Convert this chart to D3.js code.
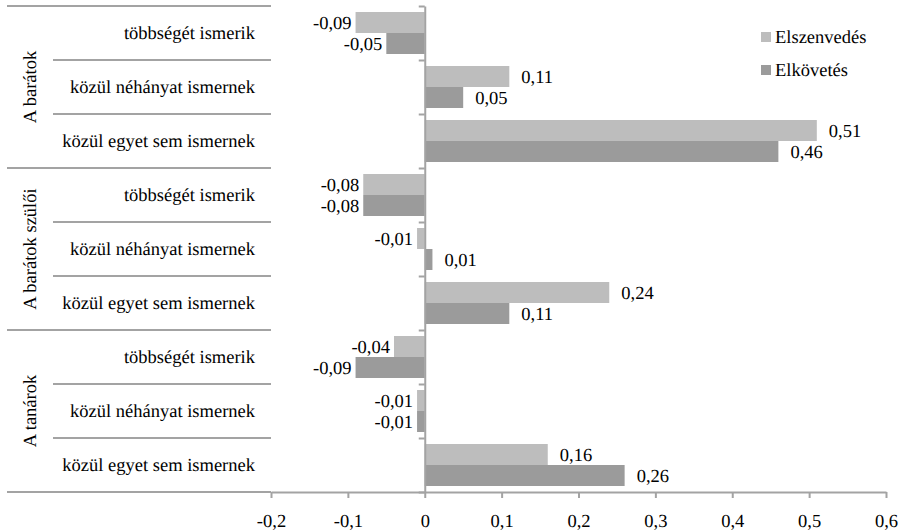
<!DOCTYPE html>
<html>
<head>
<meta charset="utf-8">
<script src="https://cdn.jsdelivr.net/npm/d3@7"></script>
</head>
<body style="margin:0; background:#fff">
<div id="chart"></div>
<script>

var groups = ["A barátok", "A barátok szülői", "A tanárok"];
var subcats = ["többségét ismerik", "közül néhányat ismernek", "közül egyet sem ismernek"];
var seriesNames = ["Elszenvedés", "Elkövetés"];
var seriesColors = ["#bdbdbd", "#9b9b9b"];

// one value per row, in top-to-bottom order (3 groups x 3 subcategories)
var elszenvedes = [-0.09, 0.11, 0.51, -0.08, -0.01, 0.24, -0.04, -0.01, 0.16];
var elkovetes = [-0.05, 0.05, 0.46, -0.08, 0.01, 0.11, -0.09, -0.01, 0.26];

var xTicks = [-0.2, -0.1, 0, 0.1, 0.2, 0.3, 0.4, 0.5, 0.6];

var width = 903, height = 532;
var lineColor = "#a3a3a3";
var fontFamily = "Liberation Serif";
var fontSize = "18.5px";

var locale = d3.formatLocale({decimal: ",", thousands: " ", grouping: [3], currency: ["", ""], minus: "-"});
var fmtVal = locale.format(".2f");
var fmtTick = function (d) { return d === 0 ? "0" : locale.format(".1f")(d); };

var rows = [];
groups.forEach(function (g, gi) {
    subcats.forEach(function (s, si) {
        var i = gi * subcats.length + si;
        rows.push({ id: i, group: g, sub: s, values: [elszenvedes[i], elkovetes[i]] });
    });
});

var svg = d3.select("#chart")
    .append("svg")
    .attr("width", width)
    .attr("height", height);

// every text gets the same font settings
function styleText(sel) {
    sel.attr("font-family", fontFamily)
        .attr("font-size", fontSize)
        .attr("text-rendering", "geometricPrecision")
        .attr("fill", "#000");
}

var x = d3.scaleLinear()
    .domain([-0.2, 0.6])
    .range([271, 886]);

var y = d3.scaleBand()
    .domain(rows.map(function (d) { return d.id; }))
    .range([6, 492])
    .padding(0);

var ySeries = d3.scaleBand()
    .domain(seriesNames)
    .range([0, y.bandwidth()])
    .paddingInner(0)
    .paddingOuter(0.2857);

var yBound = d3.scaleLinear()
    .domain([0, rows.length])
    .range([6, 492]);

// category table lines
var tableLayer = svg.append("g");

tableLayer.selectAll("line.grp")
    .data(d3.range(0, rows.length + 1, subcats.length))
    .enter().append("line")
    .attr("class", "grp")
    .attr("x1", 7)
    .attr("x2", x(-0.2))
    .attr("y1", yBound)
    .attr("y2", yBound)
    .attr("stroke", lineColor)
    .attr("stroke-width", 2);

tableLayer.selectAll("line.sub")
    .data(d3.range(1, rows.length).filter(function (i) { return i % subcats.length !== 0; }))
    .enter().append("line")
    .attr("class", "sub")
    .attr("x1", 53)
    .attr("x2", x(-0.2))
    .attr("y1", yBound)
    .attr("y2", yBound)
    .attr("stroke", lineColor)
    .attr("stroke-width", 2);

tableLayer.selectAll("text.sub")
    .data(rows)
    .enter().append("text")
    .attr("class", "sub")
    .attr("x", 255)
    .attr("y", function (d) { return y(d.id) + y.bandwidth() / 2; })
    .attr("dy", "0.3em")
    .attr("text-anchor", "end")
    .call(styleText)
    .text(function (d) { return d.sub; });

tableLayer.selectAll("text.grp")
    .data(groups)
    .enter().append("text")
    .attr("class", "grp")
    .attr("text-anchor", "middle")
    .attr("transform", function (d, i) {
        var cy = (yBound(i * subcats.length) + yBound((i + 1) * subcats.length)) / 2;
        return "translate(36," + cy + ") rotate(-90)";
    })
    .call(styleText)
    .text(function (d) { return d; });

// bars
var barLayer = svg.append("g");

var rowG = barLayer.selectAll("g.row")
    .data(rows)
    .enter().append("g")
    .attr("class", "row")
    .attr("transform", function (d) { return "translate(0," + y(d.id) + ")"; });

var bars = rowG.selectAll("rect")
    .data(function (d) {
        return d.values.map(function (v, k) { return { name: seriesNames[k], value: v, k: k }; });
    })
    .enter();

bars.append("rect")
    .attr("x", function (d) { return x(Math.min(0, d.value)); })
    .attr("y", function (d) { return ySeries(d.name); })
    .attr("width", function (d) { return Math.abs(x(d.value) - x(0)); })
    .attr("height", ySeries.bandwidth())
    .attr("fill", function (d) { return seriesColors[d.k]; });

bars.append("text")
    .attr("x", function (d) { return d.value >= 0 ? x(d.value) + 12 : x(d.value) - 4; })
    .attr("y", function (d) { return ySeries(d.name) + ySeries.bandwidth() / 2; })
    .attr("dy", "0.35em")
    .attr("text-anchor", function (d) { return d.value >= 0 ? "start" : "end"; })
    .call(styleText)
    .text(function (d) { return fmtVal(d.value); });

// axes
var xAxis = svg.append("g")
    .attr("transform", "translate(0," + yBound(rows.length) + ")")
    .call(d3.axisBottom(x).tickValues(xTicks).tickSize(6).tickSizeOuter(0).tickFormat(fmtTick));

xAxis.select(".domain").attr("stroke", lineColor).attr("stroke-width", 2);
xAxis.selectAll(".tick line").attr("stroke", lineColor).attr("stroke-width", 2);
xAxis.selectAll(".tick text")
    .attr("y", 35)
    .attr("dy", 0)
    .call(styleText);

var yAxis = svg.append("g")
    .attr("transform", "translate(" + x(0) + ",0)")
    .call(d3.axisLeft(yBound).tickValues(d3.range(rows.length + 1)).tickSize(6).tickSizeOuter(0).tickFormat(""));

yAxis.select(".domain").attr("stroke", lineColor).attr("stroke-width", 2);
yAxis.selectAll(".tick line").attr("stroke", lineColor).attr("stroke-width", 2);

// legend
var legend = svg.append("g")
    .selectAll("g")
    .data(seriesNames)
    .enter().append("g")
    .attr("transform", function (d, i) { return "translate(761," + (32 + i * 33) + ")"; });

legend.append("rect")
    .attr("width", 10)
    .attr("height", 10)
    .attr("fill", function (d, i) { return seriesColors[i]; });

legend.append("text")
    .attr("x", 14)
    .attr("y", 11)
    .call(styleText)
    .text(function (d) { return d; });

</script>
</body>
</html>
